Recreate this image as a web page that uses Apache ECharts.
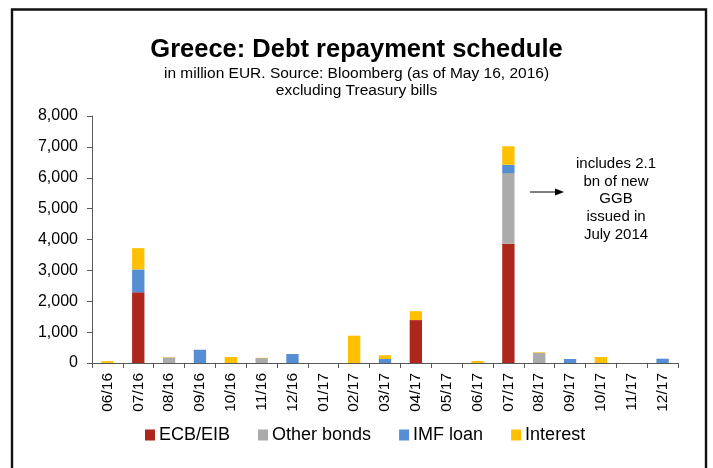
<!DOCTYPE html>
<html>
<head>
<meta charset="utf-8">
<script src="https://cdn.jsdelivr.net/npm/echarts@6/dist/echarts.min.js"></script>
<style>
  html, body { margin: 0; padding: 0; background: #fff; }
  #chart { width: 713px; height: 468px; }
</style>
</head>
<body>
<div id="chart"></div>
<script>
// Monthly repayment schedule, million EUR
const months = ['06/16','07/16','08/16','09/16','10/16','11/16','12/16','01/17','02/17','03/17',
                '04/17','05/17','06/17','07/17','08/17','09/17','10/17','11/17','12/17'];
const ecbEib     = [0, 2290, 0, 0, 0, 0, 0, 0, 0, 0, 1390, 0, 0, 3860, 0, 0, 0, 0, 0];
const otherBonds = [0, 0, 180, 0, 0, 160, 0, 0, 0, 0, 0, 0, 0, 2290, 330, 0, 0, 0, 0];
const imfLoan    = [0, 740, 0, 430, 0, 0, 290, 0, 0, 130, 0, 0, 0, 270, 0, 130, 0, 0, 140];
const interest   = [60, 690, 10, 0, 195, 10, 0, 0, 885, 120, 290, 0, 65, 600, 20, 0, 195, 0, 0];
const yTicks = [0, 1000, 2000, 3000, 4000, 5000, 6000, 7000, 8000];

const FONT = '"Liberation Sans", Arial, sans-serif';
const chart = echarts.init(document.getElementById('chart'));

function series(name, data, color) {
  return {
    name, type: 'bar', stack: 'total', data,
    barWidth: '40%',
    itemStyle: { color },
    emphasis: { disabled: true }
  };
}

chart.setOption({
  backgroundColor: '#fff',
  animation: false,
  textStyle: { fontFamily: FONT },
  title: [
    { text: 'Greece: Debt repayment schedule', left: 'center', top: 32,
      textStyle: { fontFamily: FONT, fontSize: 25.5, fontWeight: 'bold', color: '#000' } },
    { text: 'in million EUR. Source: Bloomberg (as of May 16, 2016)\nexcluding Treasury bills',
      left: 'center', top: 60,
      textStyle: { fontFamily: FONT, fontSize: 15.5, fontWeight: 'normal', color: '#000', lineHeight: 17, align: 'center' } }
  ],
  grid: { left: 92, right: 35, top: 116, bottom: 105 },
  legend: {
    bottom: 19, left: 140,
    itemWidth: 10, itemHeight: 11, itemGap: 28,
    icon: 'rect',
    textStyle: { fontFamily: FONT, fontSize: 18, color: '#000', padding: [0, 0, 0, -1] },
    data: ['ECB/EIB', 'Other bonds', 'IMF loan', 'Interest']
  },
  xAxis: {
    type: 'category', data: months,
    axisLine: { lineStyle: { color: '#595959', width: 1 } },
    axisTick: { show: true, length: 5, lineStyle: { color: '#595959' } },
    axisLabel: { rotate: 90, fontFamily: FONT, fontSize: 15.5, color: '#000', margin: 10, interval: 0 }
  },
  yAxis: {
    type: 'value', min: 0, max: 8000, interval: 1000,
    splitLine: { show: false },
    axisLine: { show: true, lineStyle: { color: '#595959', width: 1 } },
    axisTick: { show: true, length: 5, lineStyle: { color: '#595959' } },
    axisLabel: {
      fontFamily: FONT, fontSize: 16, color: '#000', margin: 14,
      formatter: v => yTicks.includes(v) ? v.toLocaleString('en-US') : ''
    }
  },
  series: [
    series('ECB/EIB', ecbEib, '#AE271D'),
    series('Other bonds', otherBonds, '#ABABAB'),
    series('IMF loan', imfLoan, '#558ED5'),
    series('Interest', interest, '#FFC000')
  ],
  graphic: [
    { type: 'rect', shape: { x: 12, y: 9.5, width: 694, height: 470 },
      style: { fill: null, stroke: '#111', lineWidth: 2.4 }, silent: true },
    { type: 'text', x: 616, y: 155,
      style: { text: 'includes 2.1\nbn of new\nGGB\nissued in\nJuly 2014', fontFamily: FONT, fontSize: 15,
               fill: '#000', align: 'center', verticalAlign: 'top', lineHeight: 17.7 } },
    { type: 'line', shape: { x1: 530, y1: 192, x2: 560, y2: 192 }, style: { stroke: '#000', lineWidth: 1 } },
    { type: 'polygon', shape: { points: [[564, 192], [555, 188.5], [555, 195.5]] }, style: { fill: '#000' } }
  ]
});
</script>
</body>
</html>
